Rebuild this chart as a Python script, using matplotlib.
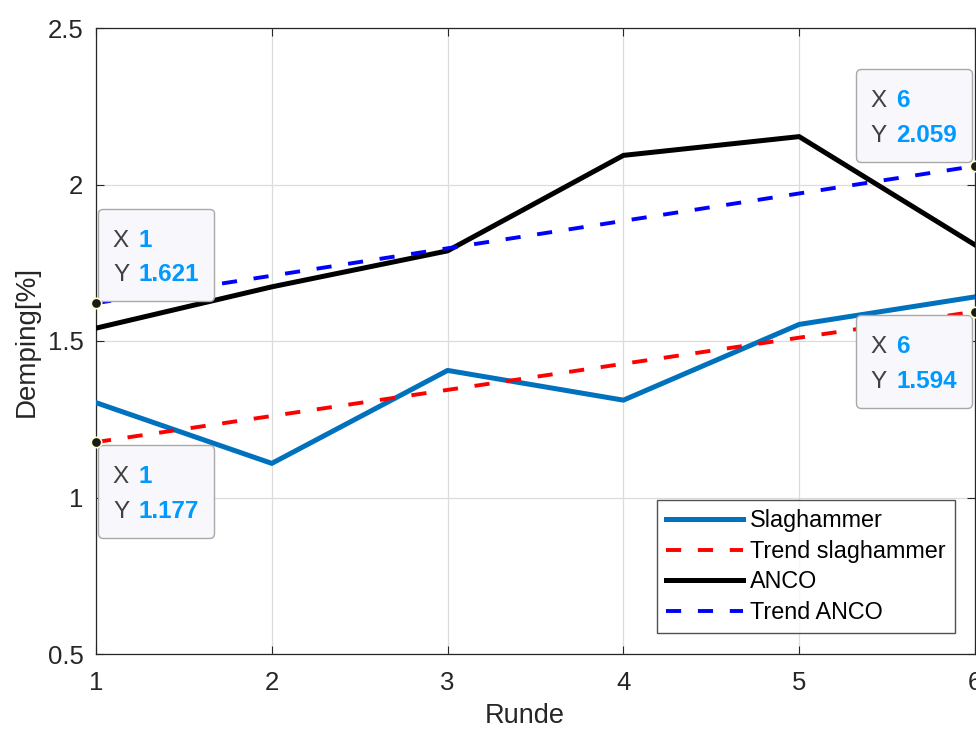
import matplotlib
matplotlib.use("Agg")
import matplotlib.pyplot as plt
from matplotlib.offsetbox import TextArea, HPacker, VPacker, DrawingArea, AnnotationBbox
from matplotlib.ticker import FuncFormatter, MultipleLocator

# Measured damping per round
runde = [1, 2, 3, 4, 5, 6]
slaghammer = [1.303, 1.109, 1.406, 1.311, 1.553, 1.641]
anco = [1.541, 1.673, 1.788, 2.093, 2.153, 1.807]

# Linear trend end points
trend_x = [1, 6]
trend_slaghammer = [1.177, 1.594]
trend_anco = [1.621, 2.059]

plt.rcParams["font.family"] = ["Liberation Sans", "DejaVu Sans"]

AX_COLOR = "#262626"
TIP_VALUE = "#0099ff"
TIP_NAME = "#404040"

fig = plt.figure(figsize=(9.76, 7.29), dpi=100)
ax = fig.add_axes([96 / 976, 75 / 729, 879 / 976, 626 / 729])

dash = (0, (3.9, 4.3))
ax.plot(runde, slaghammer, color="#0072bd", lw=3.6, label="Slaghammer", zorder=3)
ax.plot(trend_x, trend_slaghammer, color="#ff0000", lw=2.8, ls=dash,
        label="Trend slaghammer", zorder=3)
ax.plot(runde, anco, color="black", lw=3.6, label="ANCO", zorder=3)
ax.plot(trend_x, trend_anco, color="#0000ff", lw=2.8, ls=dash,
        label="Trend ANCO", zorder=3)

ax.set_xlim(1, 6)
ax.set_ylim(0.5, 2.5)
ax.xaxis.set_major_locator(MultipleLocator(1))
ax.yaxis.set_major_locator(MultipleLocator(0.5))
ax.yaxis.set_major_formatter(FuncFormatter(lambda v, p: f"{v:g}"))
ax.grid(True, color="#dcdcdc", lw=0.9, zorder=0)
ax.tick_params(direction="in", length=6, width=0.8, top=True, right=True,
               labelsize=18.5, colors=AX_COLOR)
ax.tick_params(axis="x", pad=12)
ax.tick_params(axis="y", pad=9)
for s in ax.spines.values():
    s.set_color(AX_COLOR)
    s.set_linewidth(0.9)

ax.set_xlabel("Runde", fontsize=19.5, color=AX_COLOR)
ax.xaxis.set_label_coords(0.4875, -0.079)
ax.set_ylabel("Demping[%]", fontsize=20, color=AX_COLOR, labelpad=6)

leg = ax.legend(loc="lower right", bbox_to_anchor=(0.977, 0.0335),
                borderaxespad=0, fontsize=16.8, frameon=True, fancybox=False,
                edgecolor=AX_COLOR, handlelength=3.3, handletextpad=0.28,
                labelspacing=0.32, borderpad=0.4)
leg.get_frame().set_linewidth(1.0)
leg.set_zorder(5)


def datatip(x, y, align, offset):
    rows = []
    for name, val in (("X", f"{x:g}"), ("Y", f"{y:.3f}")):
        rows.append(HPacker(children=[
            TextArea(name, textprops=dict(color=TIP_NAME, fontsize=17.5)),
            TextArea(val, textprops=dict(color=TIP_VALUE, fontsize=17.5,
                                         fontweight="bold")),
        ], align="baseline", pad=0, sep=7))
    lines = VPacker(children=rows, align="left", pad=0, sep=8.5)
    box = VPacker(children=[DrawingArea(1, 4), lines], align="left", pad=0, sep=0)
    ab = AnnotationBbox(box, (x, y), xybox=offset, xycoords="data",
                        boxcoords="offset points", box_alignment=align,
                        frameon=True, fontsize=10, annotation_clip=False,
                        bboxprops=dict(boxstyle="round,pad=1.05,rounding_size=0.35",
                                       fc="#f8f8fc", ec="#a8a8a8", lw=1.0))
    ab.set_zorder(6)
    ax.add_artist(ab)
    ax.plot([x], [y], marker="o", ms=7.5, mfc="#1a1a1a", mec="#ffffc8",
            mew=1.2, clip_on=False, zorder=7)


datatip(trend_x[0], trend_anco[0], (0, 0), (12.2, 12))
datatip(trend_x[0], trend_slaghammer[0], (0, 1), (12.2, -12.7))
datatip(trend_x[1], trend_anco[1], (1, 0), (-12.7, 13.5))
datatip(trend_x[1], trend_slaghammer[1], (1, 1), (-12.7, -13))

fig.savefig("out.png", dpi=100)
